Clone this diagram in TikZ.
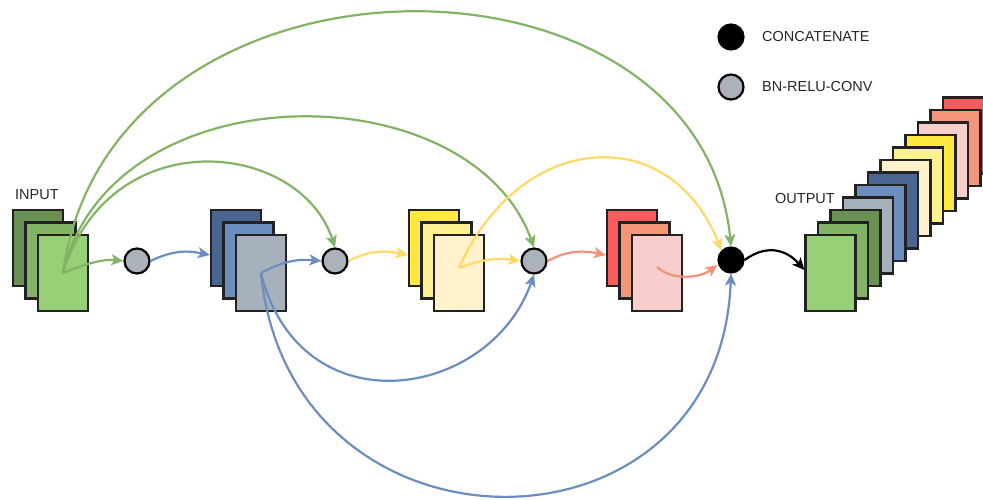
\documentclass[tikz,border=0pt]{standalone}
\usepackage{fontspec}
\setmainfont{Liberation Sans}
\usetikzlibrary{arrows.meta}

\definecolor{gA}{HTML}{6A9153}
\definecolor{gB}{HTML}{82B366}
\definecolor{gC}{HTML}{97D077}
\definecolor{bA}{HTML}{4A6590}
\definecolor{bB}{HTML}{6C8EBF}
\definecolor{bC}{HTML}{A7B1BB}
\definecolor{yA}{HTML}{FFE83F}
\definecolor{yB}{HTML}{FFF18F}
\definecolor{yC}{HTML}{FFF2CC}
\definecolor{rA}{HTML}{F85C5C}
\definecolor{rB}{HTML}{F4967A}
\definecolor{rC}{HTML}{F8CECC}
\definecolor{edge}{HTML}{222222}
\definecolor{gray}{HTML}{ABB2BA}
\definecolor{ink}{HTML}{262626}
\definecolor{ylw}{HTML}{FFD966}
\definecolor{slm}{HTML}{F0937A}

\begin{document}
\begin{tikzpicture}[x=1pt,y=-1pt,
  layer/.style={draw=edge, line width=2.2pt, minimum width=50pt, minimum height=76pt, inner sep=0pt},
  op/.style={circle, draw=black, line width=2.2pt, minimum size=25pt, inner sep=0pt, fill=gray},
  cat/.style={op, fill=black},
  lbl/.style={text=ink, font=\fontsize{14.5}{16}\selectfont, inner sep=0pt, anchor=west},
  link/.style={line width=2.2pt, -{Stealth[length=12pt,width=11pt,inset=3pt]}}]
\useasboundingbox (0,0) rectangle (983,499);
\clip (0,0) rectangle (983,499);

% blocks
\foreach \i/\c in {1/gA,2/gB,3/gC}
  \node[layer, fill=\c] (in\i) at ({38+12.5*(\i-1)}, {248+12.5*(\i-1)}) {};
\foreach \i/\c in {1/bA,2/bB,3/bC}
  \node[layer, fill=\c] (bl\i) at ({236+12.5*(\i-1)}, {248+12.5*(\i-1)}) {};
\foreach \i/\c in {1/yA,2/yB,3/yC}
  \node[layer, fill=\c] (ye\i) at ({434+12.5*(\i-1)}, {248+12.5*(\i-1)}) {};
\foreach \i/\c in {1/rA,2/rB,3/rC}
  \node[layer, fill=\c] (re\i) at ({632+12.5*(\i-1)}, {248+12.5*(\i-1)}) {};

% output stack
\foreach \i/\c in {11/rA,10/rB,9/rC,8/yA,7/yB,6/yC,5/bA,4/bB,3/bC,2/gA,1/gB,0/gC}
  \node[layer, fill=\c] (out\i) at ({830.5+12.5*\i}, {273-12.5*\i}) {};

\node[lbl] (inlbl) at (15,195) {INPUT};
\node[lbl] (outlbl) at (775,199) {OUTPUT};

% operations
\node[op] (c1) at (137,261) {};
\node[op] (c2) at (335,261) {};
\node[op] (c3) at (534,261) {};
\node[cat] (cc) at (731,260) {};

% legend
\node[cat] (leg1) at (731,37) {};
\node[lbl] (leg1t) at (762,37) {CONCATENATE};
\node[op] (leg2) at (731,87) {};
\node[lbl] (leg2t) at (762,87) {BN-RELU-CONV};

% dense links
\draw[link, gB] (in3.center) .. controls (90,262) and (105,259) .. (c1.west);
\draw[link, gB] (in3.center) .. controls (110,120) and (300,140) .. (c2.north);
\draw[link, gB] (in3.center) .. controls (110,70) and (470,70) .. (c3.north);
\draw[link, gB] (in3.center) .. controls (110,-70) and (700,-70) .. (cc.north);

\draw[link, bB] (c1.east) .. controls (175,249) and (190,251) .. ([yshift=-7pt]bl1.west);
\draw[link, bB] (bl3.center) .. controls (285,260) and (300,259) .. (c2.west);
\draw[link, bB] (bl3.center) .. controls (300,430) and (490,400) .. (c3.south);
\draw[link, bB] (bl3.center) .. controls (290,570) and (720,570) .. (cc.south);

\draw[link, ylw] (c2.east) .. controls (372,249) and (388,251) .. ([yshift=-7pt]ye1.west);
\draw[link, ylw] ([yshift=5pt]ye3.center) .. controls (485,258) and (500,258) .. (c3.west);
\draw[link, ylw] ([yshift=5pt]ye3.center) .. controls (520,130) and (670,120) .. (cc.north west);

\draw[link, slm] (c3.east) .. controls (570,249) and (586,251) .. ([yshift=-7pt]re1.west);
\draw[link, slm] ([yshift=6pt]re3.center) .. controls (672,281) and (700,278) .. ([yshift=-5pt]cc.west);

\draw[link, black] (cc.east) .. controls (765,245) and (785,248) .. ([yshift=3pt]out0.west);
\end{tikzpicture}
\end{document}
